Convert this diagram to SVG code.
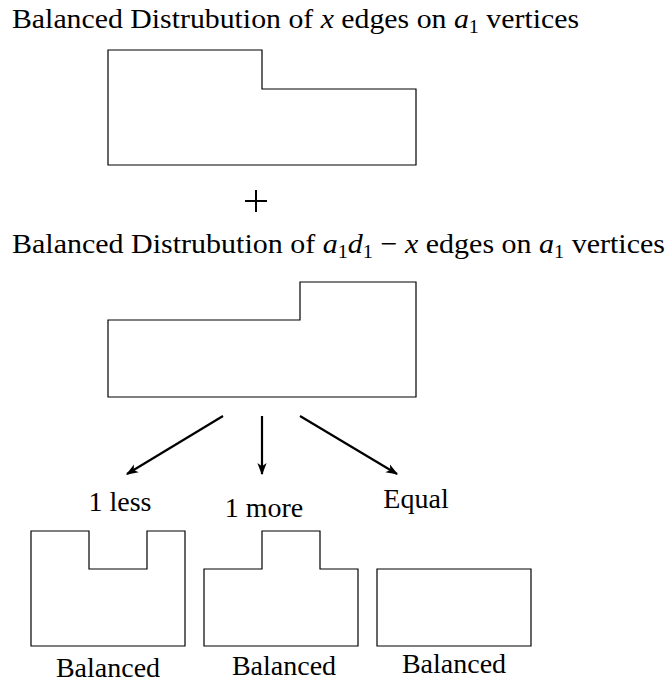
<svg xmlns="http://www.w3.org/2000/svg" width="670" height="686" viewBox="0 0 670 686">
<style>
text{font-family:"Liberation Serif","DejaVu Serif",serif;font-size:28px;fill:#000}
.m{font-style:italic}
.s{font-size:19px}
.shape{fill:none;stroke:#000;stroke-width:1.2}
.arr{stroke:#000;stroke-width:2.2;fill:none;marker-end:url(#ah)}
</style>
<defs>
<marker id="ah" viewBox="0 0 10 10" refX="9" refY="5" markerWidth="5.5" markerHeight="5.5" orient="auto" markerUnits="strokeWidth">
<path d="M0,1.2 L10,5 L0,8.8 L2.5,5 Z" fill="#000"/>
</marker>
</defs>
<g id="title1"><text x="12" y="28" textLength="567" lengthAdjust="spacingAndGlyphs">Balanced Distrubution of <tspan class="m">x</tspan> edges on <tspan class="m">a</tspan><tspan class="s" dy="5">1</tspan><tspan dy="-5"> vertices</tspan></text></g>
<g id="shape1"><path class="shape" d="M108,50 H262 V89 H416 V165 H108 Z"/></g>
<g id="plus"><path d="M256,190 V212 M245,201 H267" stroke="#000" stroke-width="2"/></g>
<g id="title2"><text x="12" y="253" textLength="653" lengthAdjust="spacingAndGlyphs">Balanced Distrubution of <tspan class="m">a</tspan><tspan class="s" dy="5">1</tspan><tspan class="m" dy="-5">d</tspan><tspan class="s" dy="5">1</tspan><tspan dy="-5"> − </tspan><tspan class="m">x</tspan> edges on <tspan class="m">a</tspan><tspan class="s" dy="5">1</tspan><tspan dy="-5"> vertices</tspan></text></g>
<g id="shape2"><path class="shape" d="M108,320 H300 V282 H416 V397 H108 Z"/></g>
<g id="connectors">
<line class="arr" x1="223" y1="416" x2="127" y2="474"/>
<line class="arr" x1="262" y1="416" x2="262" y2="474"/>
<line class="arr" x1="300" y1="416" x2="397" y2="474"/>
</g>
<g id="lbl-less"><text x="120" y="511" text-anchor="middle">1 less</text></g>
<g id="lbl-more"><text x="264" y="517" text-anchor="middle">1 more</text></g>
<g id="lbl-equal"><text x="416" y="508" text-anchor="middle">Equal</text></g>
<g id="nodeA"><path class="shape" d="M31,531 H89 V569 H147 V531 H185 V646 H31 Z"/><text x="108" y="677" text-anchor="middle">Balanced</text></g>
<g id="nodeB"><path class="shape" d="M204,569 H262 V531 H320 V569 H358 V646 H204 Z"/><text x="284" y="675" text-anchor="middle">Balanced</text></g>
<g id="nodeC"><path class="shape" d="M377,569 H531 V646 H377 Z"/><text x="454" y="673" text-anchor="middle">Balanced</text></g>
</svg>
